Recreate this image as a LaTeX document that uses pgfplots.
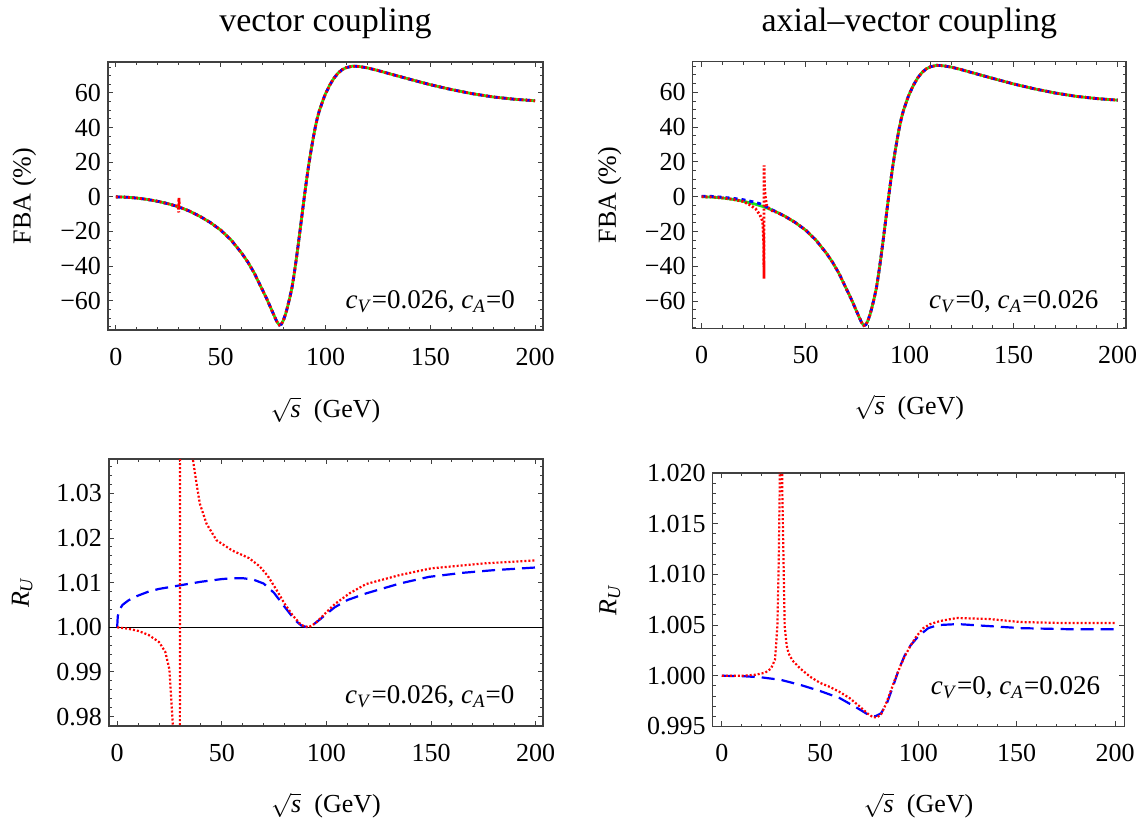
\documentclass[border=0pt]{standalone}
\usepackage{pgfplots}
\usepackage{pgfplotstable}
\pgfplotsset{compat=1.18}
\usepackage{fontspec}
\setmainfont{Liberation Serif}
\definecolor{mgreen}{rgb}{0.1,0.9,0.1}

\pgfplotstableread{
x y
0 0
5 -0.2
10 -0.7
15 -1.5
20 -2.6
25 -4.0
30 -5.8
35 -8.2
40 -11.2
45 -14.8
50 -19.2
55 -25.0
60 -32.5
63 -37.8
66 -44
68 -49
70 -54
72 -59
74 -64.5
76 -70
77 -72.5
78 -74
79 -73.5
80 -71
81 -67.5
82 -63
83 -58
84 -52.5
85 -45
86 -36.5
87 -27.5
88 -18
89 -8.5
90 1
91 10
92 18.5
93 26
94 33
95 39.5
96 45
97 49.5
98 53
99 56.5
100 59.5
102 64.5
104 68.5
106 71.5
108 73.5
110 74.7
113 75.5
116 75.3
120 74.5
125 73
130 71.3
140 68
150 64.8
160 62
170 59.6
180 57.7
190 56.4
200 55.5
}\fbamain

\pgfplotstableread{
x y
0 0.3
5 0.2
10 -0.3
15 -0.9
20 -1.7
25 -3.0
28 -4.0
30 -5.0
33 -7.0
36 -8.8
40 -11.2
45 -14.8
50 -19.2
55 -25.0
60 -32.5
63 -37.8
66 -44
68 -49
70 -54
72 -59
74 -64.5
76 -70
77 -72.5
78 -74
79 -73.5
80 -71
81 -67.5
82 -63
83 -58
84 -52.5
85 -45
86 -36.5
87 -27.5
88 -18
89 -8.5
90 1
91 10
92 18.5
93 26
94 33
95 39.5
96 45
97 49.5
98 53
99 56.5
100 59.5
102 64.5
104 68.5
106 71.5
108 73.5
110 74.7
113 75.5
116 75.3
120 74.5
125 73
130 71.3
140 68
150 64.8
160 62
170 59.6
180 57.7
190 56.4
200 55.5
}\fbablueB

\pgfplotstableread{
x y
0 0
5 -0.2
10 -0.7
15 -1.5
20 -2.6
25 -4.0
29.7 -5.6
29.95 -9
30.05 -0.5
30.3 -5.9
35 -8.2
40 -11.2
45 -14.8
50 -19.2
55 -25.0
60 -32.5
63 -37.8
66 -44
68 -49
70 -54
72 -59
74 -64.5
76 -70
77 -72.5
78 -74
79 -73.5
80 -71
81 -67.5
82 -63
83 -58
84 -52.5
85 -45
86 -36.5
87 -27.5
88 -18
89 -8.5
90 1
91 10
92 18.5
93 26
94 33
95 39.5
96 45
97 49.5
98 53
99 56.5
100 59.5
102 64.5
104 68.5
106 71.5
108 73.5
110 74.7
113 75.5
116 75.3
120 74.5
125 73
130 71.3
140 68
150 64.8
160 62
170 59.6
180 57.7
190 56.4
200 55.5
}\fbaredA

\pgfplotstableread{
x y
0 0
5 -0.2
10 -0.7
15 -1.5
20 -2.7
23 -4.5
26 -7
28 -10.5
29.3 -14
29.8 -25
29.98 -47
30.02 18
30.2 6
30.6 0
31.2 -4.8
32.5 -6.8
34.4 -8.5
36 -8.9
40 -11.2
45 -14.8
50 -19.2
55 -25.0
60 -32.5
63 -37.8
66 -44
68 -49
70 -54
72 -59
74 -64.5
76 -70
77 -72.5
78 -74
79 -73.5
80 -71
81 -67.5
82 -63
83 -58
84 -52.5
85 -45
86 -36.5
87 -27.5
88 -18
89 -8.5
90 1
91 10
92 18.5
93 26
94 33
95 39.5
96 45
97 49.5
98 53
99 56.5
100 59.5
102 64.5
104 68.5
106 71.5
108 73.5
110 74.7
113 75.5
116 75.3
120 74.5
125 73
130 71.3
140 68
150 64.8
160 62
170 59.6
180 57.7
190 56.4
200 55.5
}\fbaredB

\pgfplotstableread{
x y
0 1.0000
0.3 1.0025
1 1.0038
2.5 1.0050
5 1.0059
7 1.0065
10 1.0071
15 1.0080
20 1.0086
25 1.0090
30 1.0094
40 1.0102
50 1.0108
55 1.0110
60 1.0110
65 1.0107
70 1.0098
75 1.0077
80 1.0046
85 1.0016
88 1.0004
91 1.0000
94 1.0007
97 1.0018
100 1.0030
104 1.0045
110 1.0061
119 1.0076
135 1.0098
149 1.0113
165 1.0122
180 1.0128
200 1.0134
}\rublueA

\pgfplotstableread{
x y
0 1.0000
5 0.9997
10 0.9992
15 0.9983
20 0.9967
23 0.9945
25 0.9905
26.5 0.9790
27.5 0.960
29.9 0.90
30.1 1.10
33 1.06
36.1 1.0379
38 1.0320
39.5 1.0277
42.7 1.0232
47.5 1.0195
55 1.0172
63 1.0155
68 1.0137
72 1.0115
76 1.0085
80 1.0053
84 1.0026
88 1.0005
91.5 1.0000
95 1.0010
100 1.0034
104 1.0052
111 1.0076
119 1.0097
135 1.0117
150 1.0132
175 1.0143
200 1.0150
}\ruredA

\pgfplotstableread{
x y
0 1.0000
10 0.99997
20 0.99985
30 0.9996
40 0.9991
50 0.9985
60 0.9978
70 0.9967
75 0.9961
78 0.9960
81 0.9963
84 0.9973
87 0.9989
90 1.0006
93 1.0020
96 1.0030
100 1.0039
105 1.0047
110 1.0050
120 1.0051
136 1.0049
152 1.0047
175 1.0046
200 1.0046
}\rublueB

\pgfplotstableread{
x y
0 1.0000
10 1.0000
17 1.0001
22 1.0003
25 1.0007
27.1 1.0016
28.3 1.0049
29.0 1.0115
29.5 1.0190
29.9 1.0300
30.3 1.0300
30.8 1.0181
31.4 1.0115
32.0 1.0049
33 1.0030
34 1.0022
36 1.0015
40 1.0007
45 0.9999
50 0.9993
55 0.9989
60 0.9984
65 0.9978
70 0.9970
74 0.9963
77 0.9959
79 0.9959
81 0.9962
83 0.9970
85 0.9980
88 0.9996
90.7 1.0009
93 1.0019
95.8 1.0029
99 1.0039
102.5 1.0047
106 1.0051
111 1.0054
119.5 1.0057
136 1.0056
152 1.0053
175 1.0052
200 1.0052
}\ruredB

\tikzset{annot/.style={anchor=base east, inner sep=0pt, font=\fontsize{13.5}{15}\selectfont}}

\begin{document}
\begin{tikzpicture}
\useasboundingbox (0,0) rectangle (570.5pt,409pt);
\pgfplotsset{
  every axis title shift=0pt,
  mma/.style={
    scale only axis, anchor=south west, clip=true,
    tick align=inside,
    axis line style={black!75, line width=0.6pt},
    every tick/.style={black!75, line width=0.5pt},
    major tick length=2.6pt, minor tick length=1.4pt,
    xtick={0,50,100,150,200}, xticklabels={0,50,100,150,200},
    minor xtick={0,10,...,200},
    tick label style={font=\fontsize{13}{15}\selectfont},
    xticklabel style={yshift=-5.5pt},
    label style={font=\fontsize{13}{15}\selectfont},
    title style={font=\fontsize{17}{20}\selectfont, anchor=center},
    xlabel={$\sqrt{\textit{s}}$\ \ (GeV)},
  },
  fbatop/.style={
    mma,
    ytick={-60,-40,-20,0,20,40,60},
    yticklabels={−60,−40,−20,0,20,40,60},
    minor ytick={-75,-70,...,75},
    ylabel={FBA (\%)},
    ylabel style={at={(axis description cs:-0.192,0.5)}, anchor=center},
    xlabel style={at={(axis description cs:0.5,-0.298)}, anchor=center},
    title style={at={(axis description cs:0.5,1.145)}},
  },
  gline/.style={mgreen, line width=1.4pt},
  bline/.style={blue, line width=1.4pt, dash pattern=on 2pt off 2pt},
  rline/.style={red, line width=1.4pt, dash pattern=on 1pt off 1pt},
  bdash/.style={blue, line width=1.1pt, dash pattern=on 6.5pt off 3.5pt},
  rdot/.style={red, line width=1.1pt, dash pattern=on 1pt off 1pt},
}

% top left
\begin{axis}[fbatop, at={(54pt,244pt)}, width=217.5pt, height=134pt,
  xmin=-3.8, xmax=203.8, ymin=-76.9, ymax=77.9,
  title={vector coupling}]
\addplot[gline] table[x=x,y=y] {\fbamain};
\addplot[bline] table[x=x,y=y] {\fbamain};
\addplot[rline] table[x=x,y=y] {\fbaredA};
\node[annot] at (rel axis cs:0.936,0.082) {\textit{c}\textsubscript{\textit{V}}=0.026, \textit{c}\textsubscript{\textit{A}}=0};
\end{axis}

% top right
\begin{axis}[fbatop, at={(346.35pt,244.85pt)}, width=216.65pt, height=133.3pt,
  xmin=-4.3, xmax=204, ymin=-75.6, ymax=77.6,
  title={axial–vector coupling}]
\addplot[gline] table[x=x,y=y] {\fbamain};
\addplot[bline] table[x=x,y=y] {\fbablueB};
\addplot[rline] table[x=x,y=y] {\fbaredB};
\node[annot] at (rel axis cs:0.937,0.076) {\textit{c}\textsubscript{\textit{V}}=0, \textit{c}\textsubscript{\textit{A}}=0.026};
\end{axis}

% bottom left
\begin{axis}[mma, at={(54.5pt,46pt)}, width=217pt, height=133.5pt,
  xmin=-3.9, xmax=203.5, ymin=0.9779, ymax=1.0377,
  ytick={0.98,0.99,1.00,1.01,1.02,1.03},
  yticklabels={0.98,0.99,1.00,1.01,1.02,1.03},
  minor ytick={0.978,0.980,...,1.036},
  ylabel={\textit{R}\textsubscript{\textit{U}}},
  ylabel style={at={(axis description cs:-0.2,0.5)}, anchor=center},
  xlabel style={at={(axis description cs:0.5,-0.298)}, anchor=center}]
\addplot[black, line width=0.5pt] coordinates {(-10,1) (210,1)};
\addplot[bdash] table[x=x,y=y] {\rublueA};
\addplot[rdot] table[x=x,y=y] {\ruredA};
\node[annot] at (rel axis cs:0.935,0.086) {\textit{c}\textsubscript{\textit{V}}=0.026, \textit{c}\textsubscript{\textit{A}}=0};
\end{axis}

% bottom right
\begin{axis}[mma, at={(356.35pt,45.75pt)}, width=205.8pt, height=126.75pt,
  xmin=-4.6, xmax=204.7, ymin=0.995, ymax=1.020,
  ytick={0.995,1.000,1.005,1.010,1.015,1.020},
  yticklabels={0.995,1.000,1.005,1.010,1.015,1.020},
  minor ytick={0.995,0.996,...,1.020},
  ylabel={\textit{R}\textsubscript{\textit{U}}},
  ylabel style={at={(axis description cs:-0.25,0.5)}, anchor=center},
  xlabel style={at={(axis description cs:0.5,-0.312)}, anchor=center}]
\addplot[bdash] table[x=x,y=y] {\rublueB};
\addplot[rdot] table[x=x,y=y] {\ruredB};
\node[annot] at (rel axis cs:0.942,0.126) {\textit{c}\textsubscript{\textit{V}}=0, \textit{c}\textsubscript{\textit{A}}=0.026};
\end{axis}
\end{tikzpicture}
\end{document}
